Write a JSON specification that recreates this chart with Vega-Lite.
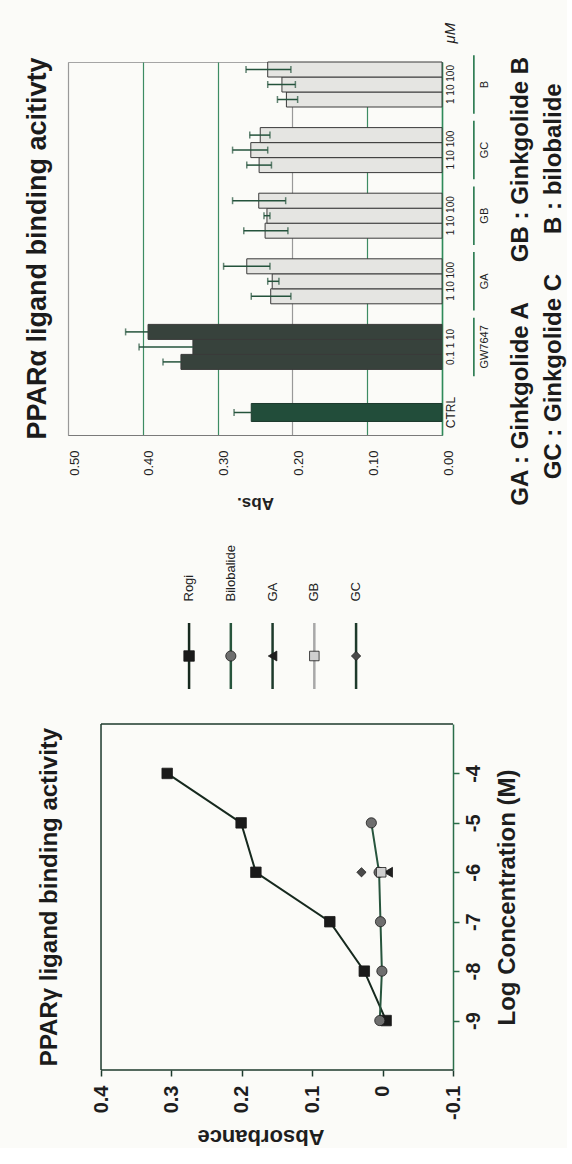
{
  "$schema": "https://vega.github.io/schema/vega-lite/v6.json",
  "background": "#fbfbf8",
  "padding": {"left": 23, "top": 22, "right": 0, "bottom": 0},
  "columns": 1,
  "spacing": 32,
  "config": {
    "font": "Liberation Sans",
    "view": {"stroke": null},
    "axis": {"labelFont": "Liberation Sans", "titleFont": "Liberation Sans"},
    "title": {"font": "Liberation Sans"},
    "text": {"font": "Liberation Sans"}
  },
  "resolve": {"scale": {"fill": "independent", "stroke": "independent", "shape": "independent", "size": "independent", "color": "independent"}},
  "datasets": {
    "bars": [
      {"group": "CTRL", "dose": "none", "value": 0.255, "lo": 0.232, "hi": 0.278},
      {"group": "GW7647", "dose": "low", "value": 0.349, "lo": 0.325, "hi": 0.373},
      {"group": "GW7647", "dose": "mid", "value": 0.333, "lo": 0.261, "hi": 0.405},
      {"group": "GW7647", "dose": "high", "value": 0.393, "lo": 0.363, "hi": 0.423},
      {"group": "GA", "dose": "low", "value": 0.229, "lo": 0.202, "hi": 0.255},
      {"group": "GA", "dose": "mid", "value": 0.227, "lo": 0.218, "hi": 0.233},
      {"group": "GA", "dose": "high", "value": 0.261, "lo": 0.230, "hi": 0.292},
      {"group": "GB", "dose": "low", "value": 0.2365, "lo": 0.206, "hi": 0.265},
      {"group": "GB", "dose": "mid", "value": 0.234, "lo": 0.230, "hi": 0.238},
      {"group": "GB", "dose": "high", "value": 0.245, "lo": 0.209, "hi": 0.280},
      {"group": "GC", "dose": "low", "value": 0.2445, "lo": 0.228, "hi": 0.261},
      {"group": "GC", "dose": "mid", "value": 0.2556, "lo": 0.233, "hi": 0.280},
      {"group": "GC", "dose": "high", "value": 0.243, "lo": 0.230, "hi": 0.257},
      {"group": "B", "dose": "low", "value": 0.208, "lo": 0.193, "hi": 0.220},
      {"group": "B", "dose": "mid", "value": 0.214, "lo": 0.196, "hi": 0.233},
      {"group": "B", "dose": "high", "value": 0.233, "lo": 0.202, "hi": 0.262}
    ],
    "series": [
      {"series": "Rogi"}, {"series": "Bilobalide"}, {"series": "GA"}, {"series": "GB"}, {"series": "GC"}
    ],
    "lines": [
      {"series": "Rogi", "logc": -9, "abs": -0.005},
      {"series": "Rogi", "logc": -8, "abs": 0.026},
      {"series": "Rogi", "logc": -7, "abs": 0.075},
      {"series": "Rogi", "logc": -6, "abs": 0.18},
      {"series": "Rogi", "logc": -5, "abs": 0.201},
      {"series": "Rogi", "logc": -4, "abs": 0.306},
      {"series": "Bilobalide", "logc": -9, "abs": 0.004},
      {"series": "Bilobalide", "logc": -8, "abs": 0.001},
      {"series": "Bilobalide", "logc": -7, "abs": 0.003},
      {"series": "Bilobalide", "logc": -6, "abs": 0.005},
      {"series": "Bilobalide", "logc": -5, "abs": 0.016},
      {"series": "GA", "logc": -6, "abs": -0.008},
      {"series": "GB", "logc": -6, "abs": 0.002},
      {"series": "GC", "logc": -6, "abs": 0.03}
    ]
  },
  "concat": [
    {
      "width": 374,
      "height": 373,
      "data": {"name": "bars"},
      "view": {"stroke": "#a5a5a5"},
      "title": {"text": "PPARα ligand binding acitivty", "orient": "left", "anchor": "middle", "fontSize": 27, "fontWeight": "bold", "color": "#1b1b1b", "offset": 16},
      "encoding": {
        "y": {
          "field": "group", "type": "nominal",
          "scale": {"domain": ["B", "GC", "GB", "GA", "GW7647", "CTRL"], "paddingInner": 0.314, "paddingOuter": 0},
          "axis": {
            "orient": "right",
            "labelExpr": "datum.value === 'CTRL' ? 'CTRL' : (datum.value === 'GW7647' ? '0.1  1  10' : '1  10  100')",
            "labelAngle": 270, "labelAlign": "center", "labelBaseline": "top",
            "labelFontSize": {"condition": {"test": "datum.value === 'CTRL'", "value": 12}, "value": 10},
            "labelPadding": 3, "labelColor": "#222222",
            "ticks": false, "domainColor": "#2f8a5a", "domainWidth": 1.5, "grid": false,
            "title": null
          }
        }
      },
      "layer": [
        {
          "transform": [{"filter": "datum.group !== 'CTRL'"}],
          "mark": {"type": "bar", "stroke": "#3a3a3a", "strokeWidth": 1},
          "encoding": {
            "x": {
              "field": "value", "type": "quantitative", "title": "Abs.",
              "scale": {"domain": [0, 0.5], "reverse": true, "nice": false, "zero": true},
              "axis": {
                "orient": "bottom", "values": [0, 0.1, 0.2, 0.3, 0.4, 0.5], "format": ".2f",
                "labelAngle": 270, "labelAlign": "right", "labelBaseline": "top", "labelFontSize": 13,
                "labelColor": "#222222", "labelPadding": 15, "labelFlush": false, "labelOverlap": false,
                "ticks": false, "domainColor": "#7a7a7a", "grid": true,
                "gridColor": {"condition": {"test": "datum.value === 0.2 || datum.value === 0.5", "value": "#999999"}, "value": "#3d8c63"},
                "gridWidth": 1.2,
                "title": "Abs.", "titleAngle": 180, "titleBaseline": "bottom", "titleFontSize": 17,
                "titleFontWeight": "bold", "titlePadding": 18, "titleColor": "#222222"
              }
            },
            "yOffset": {"field": "dose", "type": "nominal", "scale": {"domain": ["high", "mid", "low"], "paddingInner": 0, "paddingOuter": 0}},
            "fill": {"condition": {"test": "datum.group === 'GW7647'", "value": "#37423c"}, "value": "#e5e5e2"}
          }
        },
        {
          "transform": [{"filter": "datum.group === 'CTRL'"}],
          "mark": {"type": "bar", "height": {"band": 0.4}, "fill": "#224d3a", "stroke": "#1d3a2e", "strokeWidth": 1},
          "encoding": {"x": {"field": "value", "type": "quantitative", "title": "Abs."}}
        },
        {
          "transform": [{"filter": "datum.group !== 'CTRL' && datum.group !== 'GW7647'"}],
          "mark": {"type": "rule", "color": "#24533c", "strokeWidth": 1.5},
          "encoding": {
            "x": {"field": "lo", "type": "quantitative", "title": "Abs."},
            "x2": {"field": "hi"},
            "yOffset": {"field": "dose", "type": "nominal", "scale": {"domain": ["high", "mid", "low"], "paddingInner": 0, "paddingOuter": 0}}
          }
        },
        {
          "transform": [{"filter": "datum.group !== 'CTRL' && datum.group !== 'GW7647'"}],
          "mark": {"type": "tick", "color": "#24533c", "size": 7, "thickness": 1.5},
          "encoding": {
            "x": {"field": "lo", "type": "quantitative", "title": "Abs."},
            "yOffset": {"field": "dose", "type": "nominal", "scale": {"domain": ["high", "mid", "low"], "paddingInner": 0, "paddingOuter": 0}}
          }
        },
        {
          "transform": [{"filter": "datum.group === 'GW7647'"}],
          "mark": {"type": "rule", "color": "#24533c", "strokeWidth": 1.5},
          "encoding": {
            "x": {"field": "value", "type": "quantitative", "title": "Abs."},
            "x2": {"field": "hi"},
            "yOffset": {"field": "dose", "type": "nominal", "scale": {"domain": ["high", "mid", "low"], "paddingInner": 0, "paddingOuter": 0}}
          }
        },
        {
          "transform": [{"filter": "datum.group !== 'CTRL'"}],
          "mark": {"type": "tick", "color": "#24533c", "size": 7, "thickness": 1.5},
          "encoding": {
            "x": {"field": "hi", "type": "quantitative", "title": "Abs."},
            "yOffset": {"field": "dose", "type": "nominal", "scale": {"domain": ["high", "mid", "low"], "paddingInner": 0, "paddingOuter": 0}}
          }
        },
        {
          "transform": [{"filter": "datum.group === 'CTRL'"}],
          "mark": {"type": "rule", "color": "#24533c", "strokeWidth": 1.5},
          "encoding": {
            "x": {"field": "value", "type": "quantitative", "title": "Abs."},
            "x2": {"field": "hi"}
          }
        },
        {
          "transform": [{"filter": "datum.group === 'CTRL'"}],
          "mark": {"type": "tick", "color": "#24533c", "size": 7, "thickness": 1.5},
          "encoding": {"x": {"field": "hi", "type": "quantitative", "title": "Abs."}}
        },
        {
          "transform": [{"filter": "datum.dose === 'mid'"}],
          "mark": {"type": "bar", "height": {"band": 1.3}, "fill": "#2a7a50"},
          "encoding": {
            "x": {"datum": -0.0415, "type": "quantitative", "title": "Abs."},
            "x2": {"datum": -0.0437}
          }
        },
        {
          "transform": [{"filter": "datum.dose === 'mid'"}],
          "mark": {"type": "text", "angle": 270, "align": "center", "baseline": "middle", "fontSize": 11, "color": "#222222"},
          "encoding": {
            "x": {"datum": -0.0575, "type": "quantitative", "title": "Abs."},
            "text": {"field": "group"}
          }
        },
        {
          "transform": [{"filter": "datum.group === 'B' && datum.dose === 'high'"}],
          "mark": {"type": "text", "text": "μM", "angle": 270, "align": "left", "baseline": "middle", "dx": 26, "fontSize": 15, "fontStyle": "italic", "color": "#222222"},
          "encoding": {
            "x": {"datum": -0.0107, "type": "quantitative", "title": "Abs."},
            "yOffset": {"field": "dose", "type": "nominal", "scale": {"domain": ["high", "mid", "low"], "paddingInner": 0, "paddingOuter": 0}}
          }
        },
        {
          "transform": [{"filter": "datum.group === 'GA' && datum.dose === 'mid'"}],
          "mark": {
            "type": "text",
            "text": ["GA : Ginkgolide A\u00a0\u00a0\u00a0\u00a0\u00a0\u00a0GB : Ginkgolide B", "GC : Ginkgolide C\u00a0\u00a0\u00a0\u00a0\u00a0\u00a0B : bilobalide\u00a0\u00a0\u00a0\u00a0\u00a0\u00a0\u00a0"],
            "angle": 270, "align": "center", "baseline": "top", "lineHeight": 33,
            "fontSize": 24, "fontWeight": "bold", "color": "#1b1b1b"
          },
          "encoding": {
            "x": {"datum": -0.0895, "type": "quantitative", "title": "Abs."}
          }
        }
      ]
    },
    {
      "width": 334,
      "height": 66,
      "data": {"name": "series"},
      "encoding": {
        "x": {
          "field": "series", "type": "nominal",
          "scale": {"domain": ["", "Rogi", "Bilobalide", "GA", "GB", "GC"], "paddingInner": 0, "paddingOuter": 1, "align": 0.7},
          "axis": {"orient": "top", "labelAngle": 270, "labelAlign": "left", "labelBaseline": "middle", "labelPadding": 22, "labelFontSize": 13, "labelColor": "#222222", "ticks": false, "domain": false, "grid": false, "title": null}
        }
      },
      "layer": [
        {
          "mark": {"type": "rule", "strokeWidth": 2.5},
          "encoding": {
            "stroke": {"field": "series", "type": "nominal", "scale": {"domain": ["Rogi", "Bilobalide", "GA", "GB", "GC"], "range": ["#16291e", "#27553d", "#1d3a2b", "#a8a8a8", "#1d3a2b"]}, "legend": null}
          }
        },
        {
          "mark": {"type": "point", "filled": true, "opacity": 1, "stroke": "#1a1a1a", "strokeWidth": 0.8},
          "encoding": {
            "shape": {"field": "series", "type": "nominal", "scale": {"domain": ["Rogi", "Bilobalide", "GA", "GB", "GC"], "range": ["square", "circle", "triangle-left", "square", "diamond"]}, "legend": null},
            "fill": {"field": "series", "type": "nominal", "scale": {"domain": ["Rogi", "Bilobalide", "GA", "GB", "GC"], "range": ["#1a1a1a", "#6e6e6e", "#1f1f1f", "#cfcfcf", "#4a4a4a"]}, "legend": null},
            "size": {"field": "series", "type": "nominal", "scale": {"domain": ["Rogi", "Bilobalide", "GA", "GB", "GC"], "range": [110, 85, 70, 85, 40]}, "legend": null}
          }
        }
      ]
    },
    {
      "width": 385,
      "height": 346,
      "data": {"name": "lines"},
      "title": {"text": "PPARγ ligand binding activity", "orient": "left", "anchor": "middle", "fontSize": 24, "fontWeight": "bold", "color": "#1b1b1b", "offset": 6},
      "layer": [
        {
          "mark": {"type": "line", "strokeWidth": 2},
          "encoding": {
            "x": {
              "field": "abs", "type": "quantitative", "title": "Absorbance",
              "scale": {"domain": [-0.1, 0.4469], "reverse": true, "nice": false, "zero": false},
              "axis": {
                "orient": "bottom", "values": [-0.1, 0, 0.1, 0.2, 0.3, 0.4], "labelExpr": "'' + datum.value",
                "labelAngle": 270, "labelAlign": "right", "labelBaseline": "middle", "labelFontSize": 20, "labelFontWeight": "bold",
                "labelColor": "#1e1e1e", "labelPadding": 9, "labelFlush": false, "labelOverlap": false,
                "ticks": true, "tickSize": 6, "tickColor": "#1d3a2d", "tickWidth": 1.5,
                "domain": false, "grid": false,
                "title": "Absorbance", "titleAngle": 180, "titleBaseline": "bottom", "titleFontSize": 22,
                "titleFontWeight": "bold", "titlePadding": 5, "titleColor": "#1e1e1e"
              }
            },
            "y": {
              "field": "logc", "type": "quantitative", "title": "Log Concentration (M)",
              "scale": {"domain": [-10, -3], "nice": false, "zero": false},
              "axis": {
                "orient": "right", "values": [-9, -8, -7, -6, -5, -4], "labelExpr": "'' + datum.value",
                "labelAngle": 270, "labelAlign": "center", "labelBaseline": "top", "labelFontSize": 20, "labelFontWeight": "bold",
                "labelColor": "#1e1e1e", "labelPadding": 4, "labelFlush": false, "labelOverlap": false,
                "ticks": true, "tickSize": 6, "tickColor": "#2a6e4a", "tickWidth": 1.5,
                "domainColor": "#2a6e4a", "domainWidth": 1.5, "grid": false,
                "title": "Log Concentration (M)", "titleAngle": 270, "titleBaseline": "top", "titleFontSize": 24,
                "titleFontWeight": "bold", "titlePadding": 12, "titleColor": "#1e1e1e"
              }
            },
            "stroke": {"field": "series", "type": "nominal", "scale": {"domain": ["Rogi", "Bilobalide", "GA", "GB", "GC"], "range": ["#16291e", "#27553d", "#1d3a2b", "#a8a8a8", "#1d3a2b"]}, "legend": null},
            "order": {"field": "logc", "type": "quantitative"}
          }
        },
        {
          "mark": {"type": "point", "filled": true, "opacity": 1, "stroke": "#1a1a1a", "strokeWidth": 0.8},
          "encoding": {
            "x": {"field": "abs", "type": "quantitative", "title": "Absorbance"},
            "y": {"field": "logc", "type": "quantitative", "title": "Log Concentration (M)"},
            "shape": {"field": "series", "type": "nominal", "scale": {"domain": ["Rogi", "Bilobalide", "GA", "GB", "GC"], "range": ["square", "circle", "triangle-left", "square", "diamond"]}, "legend": null},
            "fill": {"field": "series", "type": "nominal", "scale": {"domain": ["Rogi", "Bilobalide", "GA", "GB", "GC"], "range": ["#1a1a1a", "#6e6e6e", "#1f1f1f", "#cfcfcf", "#4a4a4a"]}, "legend": null},
            "size": {"field": "series", "type": "nominal", "scale": {"domain": ["Rogi", "Bilobalide", "GA", "GB", "GC"], "range": [110, 85, 70, 85, 40]}, "legend": null}
          }
        },
        {
          "transform": [{"filter": "datum.series === 'Rogi' && datum.logc === -9"}],
          "mark": {"type": "rule", "color": "#1d3a2d", "strokeWidth": 1.5},
          "encoding": {
            "x": {"datum": 0.4, "type": "quantitative", "title": "Absorbance"},
            "y": {"datum": -10, "type": "quantitative", "title": "Log Concentration (M)"},
            "y2": {"datum": -3}
          }
        },
        {
          "transform": [{"filter": "datum.series === 'Rogi' && datum.logc === -9"}],
          "mark": {"type": "rule", "color": "#1d3a2d", "strokeWidth": 1.5},
          "encoding": {
            "x": {"datum": 0.4, "type": "quantitative", "title": "Absorbance"},
            "x2": {"datum": -0.1},
            "y": {"datum": -3, "type": "quantitative", "title": "Log Concentration (M)"}
          }
        },
        {
          "transform": [{"filter": "datum.series === 'Rogi' && datum.logc === -9"}],
          "mark": {"type": "rule", "color": "#1d3a2d", "strokeWidth": 1.5},
          "encoding": {
            "x": {"datum": 0.4, "type": "quantitative", "title": "Absorbance"},
            "x2": {"datum": -0.1},
            "y": {"datum": -10, "type": "quantitative", "title": "Log Concentration (M)"}
          }
        }
      ]
    }
  ]
}
